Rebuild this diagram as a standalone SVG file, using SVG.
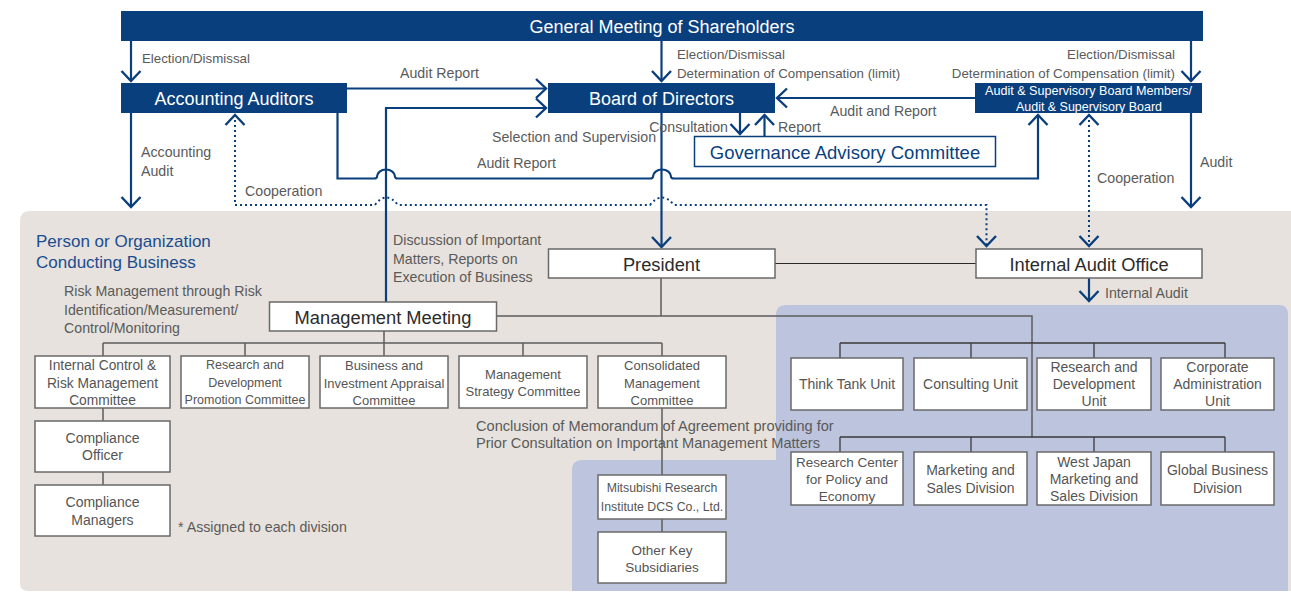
<svg xmlns="http://www.w3.org/2000/svg" width="1291" height="593" viewBox="0 0 1291 593">
  <style>
    text { font-family: "Liberation Sans", Arial, sans-serif; dominant-baseline: central; }
    .hd { font-size: 18px; fill: #ffffff; text-anchor: middle; }
    .hs { font-size: 13.5px; fill: #ffffff; text-anchor: middle; }
    .nd { font-size: 18.3px; fill: #2b2b2b; text-anchor: middle; }
    .lbl { font-size: 14.2px; fill: #5a5a5a; }
    .lbs { font-size: 13.3px; fill: #5a5a5a; }
    .lbw { font-size: 14.6px; fill: #5a5a5a; }
    .bt { fill: #555555; text-anchor: middle; }
    .navy { fill: #0a3f7e; }
    .box { fill: #ffffff; stroke: #6a6a6a; stroke-width: 1.5; }
    .tree { fill: none; stroke: #5e5e5e; stroke-width: 1.5; }
    .tree2 { fill: none; stroke: #3a3a3a; stroke-width: 1.3; }
    .flow { fill: none; stroke: #0a3f7e; stroke-width: 2.2; }
    .dot { fill: none; stroke: #0a3f7e; stroke-width: 2; stroke-dasharray: 2 3; }
  </style>
  <defs>
    <marker id="ah" viewBox="-12 -11 14 22" markerWidth="14" markerHeight="22" refX="0" refY="0" orient="auto-start-reverse" markerUnits="userSpaceOnUse">
      <path d="M-10,-9.5 L0,0 L-10,9.5" fill="none" stroke="#0a3f7e" stroke-width="2.4"/>
    </marker>
  </defs>

  <!-- background zones -->
  <g id="zones">
    <path d="M20,221 Q20,211 30,211 H1291 V591 H28 Q20,591 20,583 Z" fill="#e7e2dd"/>
    <path d="M572,591 V470 Q572,460 582,460 H776 V315 Q776,305 786,305 H1279 Q1288,305 1288,314 V591 Z" fill="#bcc4de"/>
  </g>

  <!-- connectors -->
  <g id="connectors">
    <!-- organisation tree lines -->
    <path class="tree" d="M661,278 V316 M497,316 H1032 V437"/>
    <path class="tree" d="M384,331 V343 M103,343 H662 M103,343 V356 M245,343 V356 M384,343 V356 M523,343 V356 M662,343 V356"/>
    <path class="tree" d="M103,408 V421 M103,472 V485 M662,408 V475 M662,519 V532"/>
    <path class="tree2" d="M840,343 H1225 M840,343 V358 M971,343 V358 M1094,343 V358 M1225,343 V358"/>
    <path class="tree2" d="M840,437 H1225 M840,437 V452 M971,437 V452 M1094,437 V452 M1225,437 V452"/>
    <path d="M775,263.5 H976" fill="none" stroke="#2a2a2a" stroke-width="1.2"/>

    <!-- governance flows -->
    <path class="flow" d="M131,41 V81" marker-end="url(#ah)"/>
    <path class="flow" d="M661.5,41 V81" marker-end="url(#ah)"/>
    <path class="flow" d="M1191,41 V81" marker-end="url(#ah)"/>
    <path class="flow" d="M131,113 V207" marker-end="url(#ah)"/>
    <path class="flow" d="M1191,113 V207" marker-end="url(#ah)"/>
    <path class="flow" d="M347,88.5 H546" marker-end="url(#ah)"/>
    <path class="flow" d="M386,302 V108 H546" marker-end="url(#ah)"/>
    <path class="flow" d="M975,98 H777" marker-end="url(#ah)"/>
    <path class="flow" d="M740,113 V134" marker-end="url(#ah)"/>
    <path class="flow" d="M764.5,136 V115" marker-end="url(#ah)"/>
    <path class="flow" d="M661.5,113 V247" marker-end="url(#ah)"/>
    <path class="flow" d="M1089,278 V301" marker-end="url(#ah)"/>
    <path class="flow" d="M337.5,113 V178.5 H374 C377,178.5 377,177.5 377,176.5 A9,7 0 0 1 395,176.5 C395,177.5 395,178.5 398,178.5 H650 C653,178.5 653,177.5 653,176.5 A9,7 0 0 1 671,176.5 C671,177.5 671,178.5 674,178.5 H1038 V115" marker-end="url(#ah)"/>
    <path class="dot" d="M235,115 V205 H375 Q386,190 398,205 H650 Q662,190 674,205 H986.5 V246" marker-start="url(#ah)" marker-end="url(#ah)"/>
    <path class="dot" d="M1089,115 V246" marker-start="url(#ah)" marker-end="url(#ah)"/>
  </g>

  <!-- governance bodies -->
  <g id="shareholders">
    <rect class="navy" x="121" y="11" width="1082" height="30"/>
    <text class="hd" x="662" y="26.5">General Meeting of Shareholders</text>
  </g>
  <g id="accounting-auditors">
    <rect class="navy" x="121" y="83" width="226" height="30"/>
    <text class="hd" x="234" y="98.5">Accounting Auditors</text>
  </g>
  <g id="board">
    <rect class="navy" x="548" y="83" width="227" height="30"/>
    <text class="hd" x="661.5" y="98.5">Board of Directors</text>
  </g>
  <g id="audit-board">
    <rect class="navy" x="975" y="83" width="227" height="30"/>
    <text class="hs" x="1088.5" y="90" textLength="207" lengthAdjust="spacingAndGlyphs">Audit &amp; Supervisory Board Members/</text>
    <text class="hs" x="1089" y="106" textLength="146" lengthAdjust="spacingAndGlyphs">Audit &amp; Supervisory Board</text>
  </g>
  <g id="governance-advisory">
    <rect x="694.5" y="136.5" width="301" height="30" fill="#ffffff" stroke="#0a3f7e" stroke-width="1.5"/>
    <text x="845" y="152" font-size="18.5" fill="#0a3f7e" text-anchor="middle">Governance Advisory Committee</text>
  </g>

  <!-- executive bodies -->
  <g id="president">
    <rect class="box" x="548.5" y="249" width="226.5" height="29"/>
    <text class="nd" x="661.5" y="264">President</text>
  </g>
  <g id="internal-audit-office">
    <rect class="box" x="976" y="249" width="226" height="29"/>
    <text class="nd" x="1089" y="264">Internal Audit Office</text>
  </g>
  <g id="management-meeting">
    <rect class="box" x="269.5" y="302" width="227" height="29"/>
    <text class="nd" x="383" y="317">Management Meeting</text>
  </g>

  <!-- committees -->
  <g id="internal-control">
    <rect class="box" x="35" y="356" width="135" height="52"/>
    <text class="bt" font-size="13.8" x="102.5" y="365">Internal Control &amp;</text>
    <text class="bt" font-size="13.8" x="102.5" y="383">Risk Management</text>
    <text class="bt" font-size="13.8" x="102.5" y="400">Committee</text>
  </g>
  <g id="rd-promotion">
    <rect class="box" x="181" y="356" width="128" height="52"/>
    <text class="bt" font-size="12.5" x="245" y="365">Research and</text>
    <text class="bt" font-size="12.5" x="245" y="383">Development</text>
    <text class="bt" font-size="12.5" x="245" y="400">Promotion Committee</text>
  </g>
  <g id="investment-appraisal">
    <rect class="box" x="320" y="356" width="128" height="52"/>
    <text class="bt" font-size="13" x="384" y="365">Business and</text>
    <text class="bt" font-size="13" x="384" y="383">Investment Appraisal</text>
    <text class="bt" font-size="13" x="384" y="400">Committee</text>
  </g>
  <g id="management-strategy">
    <rect class="box" x="459" y="356" width="128" height="52"/>
    <text class="bt" font-size="13" x="523" y="374">Management</text>
    <text class="bt" font-size="13" x="523" y="391">Strategy Committee</text>
  </g>
  <g id="consolidated-management">
    <rect class="box" x="598" y="356" width="128" height="52"/>
    <text class="bt" font-size="13" x="662" y="365">Consolidated</text>
    <text class="bt" font-size="13" x="662" y="383">Management</text>
    <text class="bt" font-size="13" x="662" y="400">Committee</text>
  </g>
  <g id="compliance-officer">
    <rect class="box" x="35" y="421" width="135" height="51"/>
    <text class="bt" font-size="14" x="102.5" y="438">Compliance</text>
    <text class="bt" font-size="14" x="102.5" y="455">Officer</text>
  </g>
  <g id="compliance-managers">
    <rect class="box" x="35" y="485" width="135" height="51"/>
    <text class="bt" font-size="14" x="102.5" y="502">Compliance</text>
    <text class="bt" font-size="14" x="102.5" y="520">Managers</text>
  </g>

  <!-- subsidiaries -->
  <g id="mri-dcs">
    <rect class="box" x="598" y="475" width="128" height="44"/>
    <text class="bt" font-size="12.3" x="662" y="488">Mitsubishi Research</text>
    <text class="bt" font-size="12.3" x="662" y="507">Institute DCS Co., Ltd.</text>
  </g>
  <g id="other-subsidiaries">
    <rect class="box" x="598" y="532" width="128" height="51"/>
    <text class="bt" font-size="13.5" x="662" y="550">Other Key</text>
    <text class="bt" font-size="13.5" x="662" y="567">Subsidiaries</text>
  </g>

  <!-- business units -->
  <g id="think-tank">
    <rect class="box" x="791" y="358" width="112" height="52"/>
    <text class="bt" font-size="14" x="847" y="384">Think Tank Unit</text>
  </g>
  <g id="consulting">
    <rect class="box" x="914" y="358" width="113" height="52"/>
    <text class="bt" font-size="14" x="970.5" y="384">Consulting Unit</text>
  </g>
  <g id="rd-unit">
    <rect class="box" x="1037" y="358" width="114" height="52"/>
    <text class="bt" font-size="14" x="1094" y="367">Research and</text>
    <text class="bt" font-size="14" x="1094" y="384">Development</text>
    <text class="bt" font-size="14" x="1094" y="401">Unit</text>
  </g>
  <g id="corporate-admin">
    <rect class="box" x="1161" y="358" width="113" height="52"/>
    <text class="bt" font-size="14" x="1217.5" y="367">Corporate</text>
    <text class="bt" font-size="14" x="1217.5" y="384">Administration</text>
    <text class="bt" font-size="14" x="1217.5" y="401">Unit</text>
  </g>
  <g id="policy-economy">
    <rect class="box" x="791" y="452" width="112" height="53"/>
    <text class="bt" font-size="13.5" x="847" y="462">Research Center</text>
    <text class="bt" font-size="13.5" x="847" y="479">for Policy and</text>
    <text class="bt" font-size="13.5" x="847" y="496">Economy</text>
  </g>
  <g id="marketing-sales">
    <rect class="box" x="914" y="452" width="113" height="53"/>
    <text class="bt" font-size="14" x="970.5" y="470">Marketing and</text>
    <text class="bt" font-size="14" x="970.5" y="488">Sales Division</text>
  </g>
  <g id="west-japan">
    <rect class="box" x="1037" y="452" width="114" height="53"/>
    <text class="bt" font-size="14" x="1094" y="462">West Japan</text>
    <text class="bt" font-size="14" x="1094" y="479">Marketing and</text>
    <text class="bt" font-size="14" x="1094" y="496">Sales Division</text>
  </g>
  <g id="global-business">
    <rect class="box" x="1161" y="452" width="113" height="53"/>
    <text class="bt" font-size="14" x="1217.5" y="470">Global Business</text>
    <text class="bt" font-size="14" x="1217.5" y="488">Division</text>
  </g>

  <!-- flow and area labels -->
  <g id="labels">
    <text class="lbs" x="142" y="58">Election/Dismissal</text>
    <text class="lbs" x="677" y="54">Election/Dismissal</text>
    <text class="lbs" x="677" y="73">Determination of Compensation (limit)</text>
    <text class="lbs" x="1175" y="54" text-anchor="end">Election/Dismissal</text>
    <text class="lbs" x="1175" y="73" text-anchor="end">Determination of Compensation (limit)</text>
    <text class="lbl" x="400" y="73">Audit Report</text>
    <text class="lbl" x="830" y="111">Audit and Report</text>
    <text class="lbl" x="728" y="127" text-anchor="end">Consultation</text>
    <text class="lbl" x="778" y="127">Report</text>
    <text class="lbl" x="492" y="137">Selection and Supervision</text>
    <text class="lbl" x="477" y="163">Audit Report</text>
    <text class="lbl" x="141" y="152">Accounting</text>
    <text class="lbl" x="141" y="171">Audit</text>
    <text class="lbl" x="245" y="191">Cooperation</text>
    <text class="lbl" x="1097" y="178">Cooperation</text>
    <text class="lbl" x="1200" y="162">Audit</text>
    <text class="lbl" x="1105" y="293">Internal Audit</text>
    <text class="lbl" x="393" y="240">Discussion of Important</text>
    <text class="lbl" x="393" y="258.5">Matters, Reports on</text>
    <text class="lbl" x="393" y="277">Execution of Business</text>
    <text x="36" y="241.5" font-size="17" fill="#1a4d8f">Person or Organization</text>
    <text x="36" y="262" font-size="17" fill="#1a4d8f">Conducting Business</text>
    <text class="lbl" x="64" y="291">Risk Management through Risk</text>
    <text class="lbl" x="64" y="309.5">Identification/Measurement/</text>
    <text class="lbl" x="64" y="328">Control/Monitoring</text>
    <text class="lbl" x="178" y="527">* Assigned to each division</text>
    <text class="lbw" x="476" y="425.5">Conclusion of Memorandum of Agreement providing for</text>
    <text class="lbw" x="476" y="443">Prior Consultation on Important Management Matters</text>
  </g>
</svg>
